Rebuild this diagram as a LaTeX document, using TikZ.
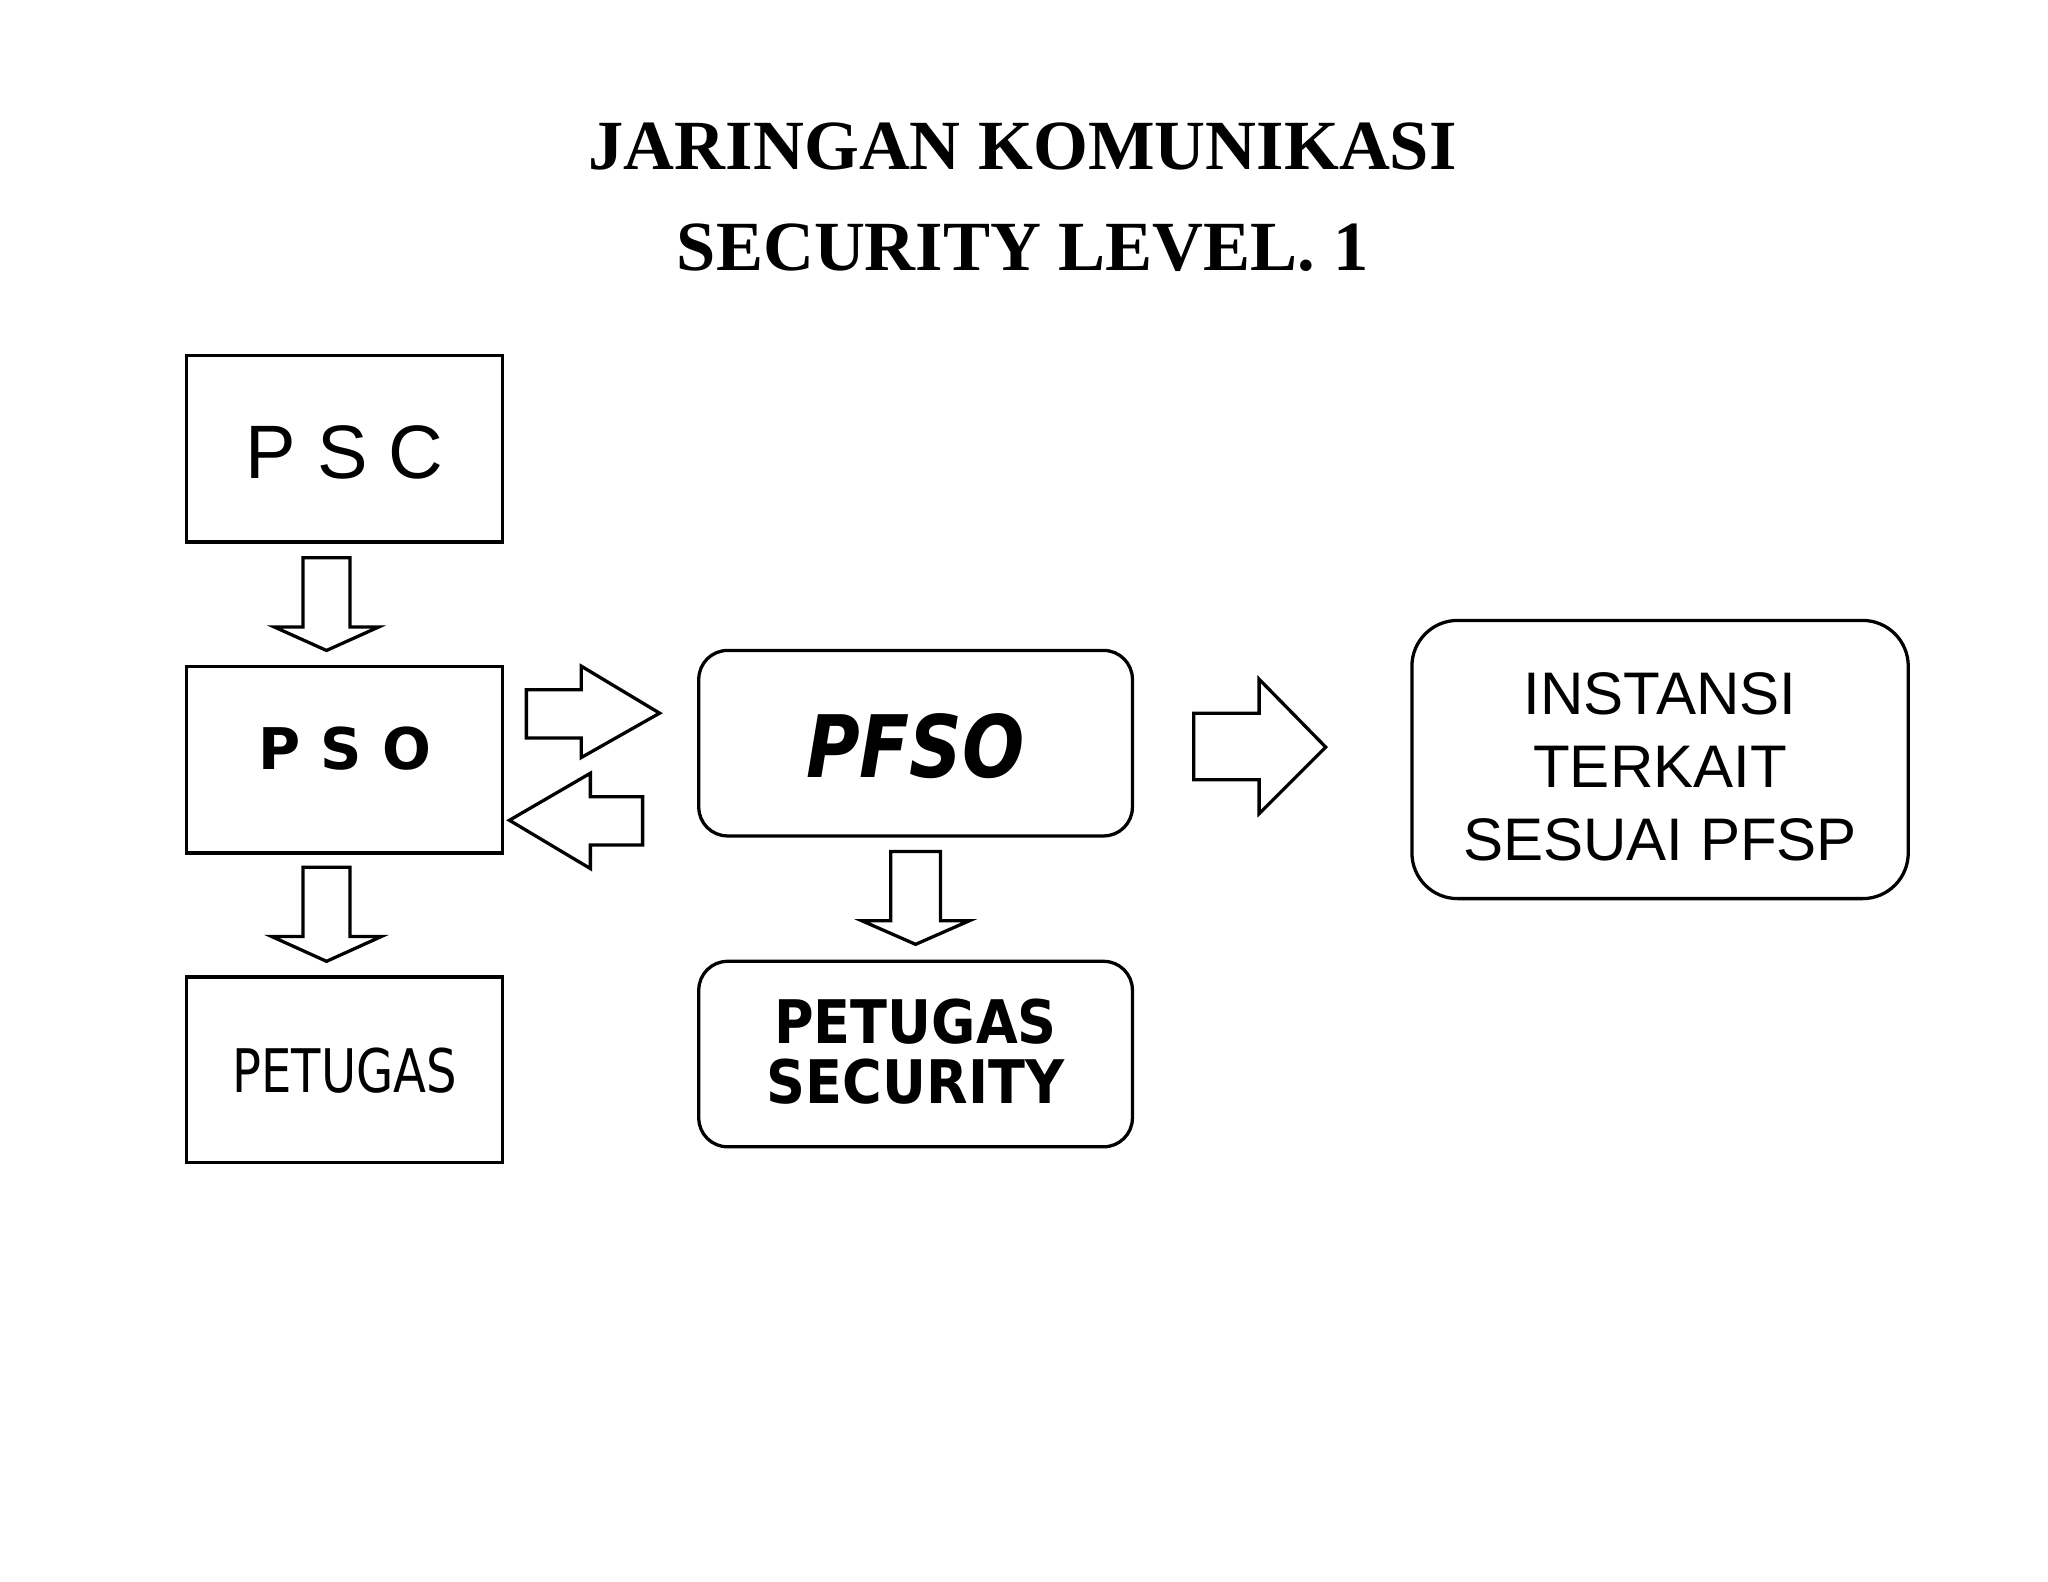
\documentclass[tikz,border=0pt]{standalone}
\usepackage{fontspec}
\setmainfont{Liberation Sans}
\newfontfamily\titlefont{Liberation Serif}
\newfontfamily\handfont{DejaVu Sans}
\begin{document}
\begin{tikzpicture}[x=1pt,y=-1pt,
  sq/.style={draw,line width=2.5pt,rectangle},
  rd/.style={draw,line width=2.5pt,rounded corners=22pt},
  blk/.style={draw,line width=2.5pt,fill=white,line join=miter}]
\useasboundingbox (0,0) rectangle (1568,1211);
\node[font=\titlefont\bfseries\fontsize{54}{60}\selectfont] (t1) at (783,112) {JARINGAN KOMUNIKASI};
\node[font=\titlefont\bfseries\fontsize{54}{60}\selectfont] (t2) at (783,190) {SECURITY LEVEL. 1};
% boxes
\draw[sq] (143,272) rectangle (385,415);
\node[font=\fontsize{58}{60}\selectfont] (psc) at (264,346) {P S C};
\draw[sq] (143,510) rectangle (385,653);
\node[font=\handfont\bfseries\fontsize{44}{50}\selectfont] (pso) at (264,573) {P S O};
\draw[sq] (143,748) rectangle (385,890);
\node[font=\handfont\fontsize{46}{50}\selectfont,xscale=0.8] (pet) at (264,820) {PETUGAS};
\draw[rd] (535,498) rectangle (867,640);
\node[font=\handfont\bfseries\itshape\fontsize{66}{70}\selectfont,xscale=0.85] (pfso) at (701,571) {PFSO};
\draw[rd] (535,736) rectangle (867,878);
\node[font=\handfont\bfseries\fontsize{46}{52}\selectfont,align=center,xscale=0.9] (ps) at (701,805) {PETUGAS\\[-6pt]SECURITY};
\draw[line width=2.5pt,rounded corners=35pt] (1081,475) rectangle (1461,688);
\node[font=\fontsize{46}{56}\selectfont,align=center] (inst) at (1271,587) {INSTANSI\\TERKAIT\\SESUAI PFSP};
% block arrows
\draw[blk] (232,427)--(268,427)--(268,480)--(290,480)--(250,498)--(210,480)--(232,480)--cycle;
\draw[blk] (232,664)--(268,664)--(268,717)--(292,717)--(250,736)--(208,717)--(232,717)--cycle;
\draw[blk] (682,652)--(720,652)--(720,705)--(742,705)--(701,723)--(660,705)--(682,705)--cycle;
\draw[blk] (403,528)--(445,528)--(445,510)--(505,546)--(445,580)--(445,565)--(403,565)--cycle;
\draw[blk] (492,610)--(452,610)--(452,592)--(390,628)--(452,665)--(452,647)--(492,647)--cycle;
\draw[blk] (914,546)--(964,546)--(964,520)--(1015,572)--(964,623)--(964,597)--(914,597)--cycle;
\end{tikzpicture}
\end{document}
